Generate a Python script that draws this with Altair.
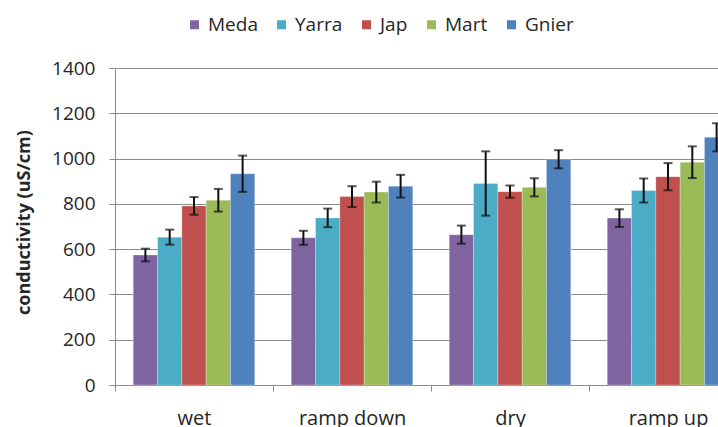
import altair as alt
import pandas as pd

phases = ["wet", "ramp down", "dry", "ramp up"]
sites = ["Meda", "Yarra", "Jap", "Mart", "Gnier"]
site_colors = ["#8064A2", "#4BACC6", "#C0504D", "#9BBB59", "#4F81BD"]

# mean conductivity (uS/cm) per phase, one list per site
meda = [574, 650, 664, 737]
yarra = [653, 738, 890, 859]
jap = [791, 832, 854, 920]
mart = [816, 852, 873, 984]
gnier = [933, 878, 997, 1094]

# half-length of each error bar (uS/cm)
meda_err = [28, 31, 40, 39]
yarra_err = [33, 41, 142, 53]
jap_err = [39, 46, 27, 60]
mart_err = [50, 46, 40, 70]
gnier_err = [80, 50, 40, 62]

y_ticks = [0, 200, 400, 600, 800, 1000, 1200, 1400]

means = {"Meda": meda, "Yarra": yarra, "Jap": jap, "Mart": mart, "Gnier": gnier}
errs = {"Meda": meda_err, "Yarra": yarra_err, "Jap": jap_err, "Mart": mart_err, "Gnier": gnier_err}

rows = []
for site in sites:
    for i, phase in enumerate(phases):
        m = means[site][i]
        e = errs[site][i]
        rows.append({"phase": phase, "site": site, "value": m, "lo": m - e, "hi": m + e})
df = pd.DataFrame(rows)

FONT = "Open Sans"
TXT = "#262626"
GRID = "#8c8c8c"

x_enc = alt.X(
    "phase:N",
    sort=phases,
    scale=alt.Scale(range=[0, 632], paddingInner=0, paddingOuter=0),
    axis=alt.Axis(
        title=None,
        labelAngle=0,
        tickBand="extent",
        ticks=True,
        tickSize=6,
        tickColor=GRID,
        domainColor=GRID,
        labelFont=FONT,
        labelFontSize=20,
        labelColor=TXT,
        labelPadding=17,
    ),
)
xoff_enc = alt.XOffset("site:N", sort=sites, scale=alt.Scale(domain=sites, paddingInner=0, paddingOuter=0.75))

y_scale = alt.Scale(domain=[0, 1400], nice=False)

bars = alt.Chart(df).mark_bar(stroke="white", strokeOpacity=0.35, strokeWidth=0.8).encode(
    x=x_enc,
    xOffset=xoff_enc,
    y=alt.Y(
        "value:Q",
        scale=y_scale,
        axis=alt.Axis(
            values=y_ticks,
            format="d",
            title="conductivity (uS/cm)",
            titleFont=FONT,
            titleFontSize=18,
            titleFontWeight="bold",
            titleColor=TXT,
            titleAngle=270,
            titleAlign="center",
            titleBaseline="middle",
            titleX=-91,
            titleY=154,
            labelFont=FONT,
            labelFontSize=19,
            labelColor=TXT,
            labelPadding=14,
            tickSize=6,
            tickColor=GRID,
            domainColor=GRID,
            grid=True,
            gridColor=GRID,
            gridWidth=1,
        ),
    ),
    color=alt.Color(
        "site:N",
        sort=sites,
        scale=alt.Scale(domain=sites, range=site_colors),
        legend=alt.Legend(
            title=None,
            orient="none",
            legendX=70,
            legendY=-53,
            direction="horizontal",
            symbolType="square",
            symbolSize=81,
            symbolStrokeWidth=0,
            symbolOpacity=1,
            labelFont=FONT,
            labelFontSize=19,
            labelColor=TXT,
            labelOffset=4,
            columnPadding=14,
            padding=0,
        ),
    ),
)

whisker = alt.Chart(df).mark_rule(color="#111111", strokeWidth=2).encode(
    x=x_enc,
    xOffset=xoff_enc,
    y=alt.Y("lo:Q", scale=y_scale),
    y2="hi:Q",
)

cap_lo = alt.Chart(df).mark_tick(color="#111111", thickness=2, size=9).encode(
    x=x_enc,
    xOffset=xoff_enc,
    y=alt.Y("lo:Q", scale=y_scale),
)

cap_hi = alt.Chart(df).mark_tick(color="#111111", thickness=2, size=9).encode(
    x=x_enc,
    xOffset=xoff_enc,
    y=alt.Y("hi:Q", scale=y_scale),
)

chart = (
    alt.layer(bars, whisker, cap_lo, cap_hi)
    .properties(
        width=603,
        height=317,
        autosize=alt.AutoSizeParams(type="none"),
        padding={"left": 115, "top": 68, "right": 0, "bottom": 42},
        background="white",
    )
    .configure_view(stroke=None)
)

chart.save("out.html", embed_options={"renderer": "svg", "actions": False})
